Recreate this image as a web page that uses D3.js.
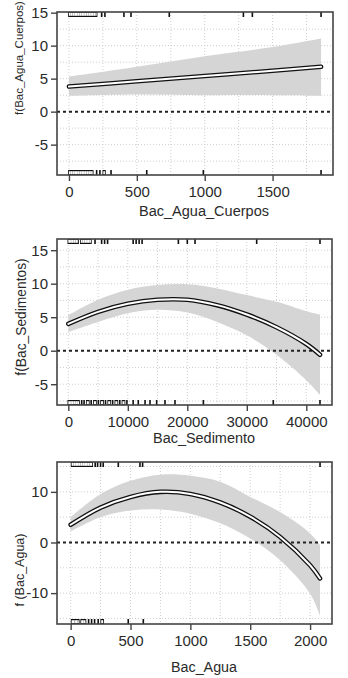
<!DOCTYPE html>
<html>
<head>
<meta charset="utf-8">
<script src="https://cdn.jsdelivr.net/npm/d3@7"></script>
<style>
  body { margin: 0; background: #fff; }
  text { font-family: "Liberation Sans", Arial, sans-serif; fill: #2a2a2a; }
</style>
</head>
<body>
<svg id="chart" width="348" height="678"></svg>
<script>
// --- panel 1: Bac_Agua_Cuerpos
const cuerposX = [0, 500, 1000, 1500, 1857];
const cuerposFit = [3.8, 4.6, 5.4, 6.2, 6.8];
const cuerposLow = [2.4, 2.6, 2.5, 2.5, 2.4];
const cuerposHigh = [5.3, 6.8, 8.4, 9.8, 11.1];
const cuerposRugTop = [0, 13, 26, 39, 52, 65, 78, 91, 104, 117, 130, 143, 156, 169, 182, 195, 204, 241, 265, 405, 457, 739, 1285, 1351, 1857];
const cuerposRugBottom = [0, 13, 26, 39, 52, 65, 78, 91, 104, 117, 130, 143, 156, 169, 175, 204, 228, 253, 265, 310, 573, 990, 1857];
const cuerposXTicks = [0, 500, 1000, 1500];
const cuerposYTicks = [-5, 0, 5, 10, 15];

// --- panel 2: Bac_Sedimento
const sedX = [0, 5000, 10000, 15000, 20000, 25000, 30000, 35000, 40000, 42300];
const sedFit = [4.0, 5.8, 7.0, 7.6, 7.6, 6.8, 5.4, 3.5, 1.0, -0.6];
const sedLow = [2.8, 4.3, 5.6, 6.1, 5.7, 4.3, 2.3, -0.6, -4.4, -6.6];
const sedHigh = [5.3, 7.6, 9.1, 9.8, 9.9, 9.3, 8.3, 7.3, 5.9, 5.4];
const sedRugTop = [0, 300, 600, 900, 1200, 1500, 1650, 2100, 2400, 2700, 3000, 3300, 3600, 3800, 4490, 5600, 6100, 6600, 10900, 11400, 11900, 12400, 18500, 20000, 21300, 31660, 42300];
const sedRugBottom = [0, 300, 600, 900, 1200, 1500, 1800, 2250, 2650, 3100, 3450, 3850, 4300, 4650, 5050, 5500, 5850, 6250, 6700, 7050, 7450, 7900, 8250, 8650, 9100, 9450, 9850, 10900, 11760, 12900, 13730, 14850, 16250, 17930, 22700, 34450, 42300];
const sedXTicks = [0, 10000, 20000, 30000, 40000];
const sedYTicks = [-5, 0, 5, 10, 15];

// --- panel 3: Bac_Agua
const aguaX = [0, 250, 500, 750, 1000, 1250, 1500, 1750, 2000, 2083];
const aguaFit = [3.5, 6.9, 9.0, 10.0, 9.6, 7.9, 5.1, 1.1, -4.5, -7.1];
const aguaLow = [2.2, 5.0, 6.3, 6.5, 5.7, 3.8, 0.8, -3.5, -10.1, -14.4];
const aguaHigh = [5.0, 9.6, 12.2, 13.4, 13.2, 12.0, 9.0, 6.0, 1.8, -0.5];
const aguaRugTop = [8, 23, 38, 53, 68, 83, 98, 113, 128, 143, 158, 170, 180, 205, 225, 250, 272, 398, 579, 601, 2083];
const aguaRugBottom = [8, 20, 32, 44, 56, 68, 88, 106, 124, 150, 175, 200, 230, 255, 272, 481, 607];
const aguaXTicks = [0, 500, 1000, 1500, 2000];
const aguaYTicks = [-10, 0, 10];

const svg = d3.select("#chart");

function drawRug(g, x, vals, edge, dir) {
    const len = 5;
    const y0 = dir > 0 ? edge : edge - len;
    g.selectAll(null).data(vals).enter().append("rect")
        .attr("x", d => x(d) - 0.8).attr("y", y0)
        .attr("width", 1.6).attr("height", len)
        .attr("fill", "#111");
    // dense runs of ticks show up as an outlined white block
    const close = d3.pairs(vals).filter(([a, b]) => x(b) - x(a) < 2.2);
    g.selectAll(null).data(close).enter().append("rect")
        .attr("x", d => x(d[0])).attr("y", y0)
        .attr("width", d => x(d[1]) - x(d[0])).attr("height", len)
        .attr("fill", "#111");
    g.selectAll(null).data(close).enter().append("rect")
        .attr("x", d => x(d[0])).attr("y", dir > 0 ? y0 + 0.8 : y0 + 1.2)
        .attr("width", d => x(d[1]) - x(d[0])).attr("height", len - 2)
        .attr("fill", "#fff");
}

function drawPanel(p) {
    const x = d3.scaleLinear().domain(p.xDomain).range([p.left, p.right]);
    const y = d3.scaleLinear().domain(p.yDomain).range([p.bottom, p.top]);
    const g = svg.append("g");

    g.selectAll(null).data(p.xGrid).enter().append("line")
        .attr("x1", d => x(d)).attr("x2", d => x(d))
        .attr("y1", p.top).attr("y2", p.bottom)
        .attr("stroke", "#cfcfcf").attr("stroke-dasharray", "1,2");
    g.selectAll(null).data(p.yGrid).enter().append("line")
        .attr("x1", p.left).attr("x2", p.right)
        .attr("y1", d => y(d)).attr("y2", d => y(d))
        .attr("stroke", "#cfcfcf").attr("stroke-dasharray", "1,2");

    const rows = p.xs.map((v, i) => ({ x: v, fit: p.fit[i], lo: p.lo[i], hi: p.hi[i] }));
    const curve = d3.curveCatmullRom.alpha(0.5);

    g.append("path").datum(rows)
        .attr("d", d3.area().x(d => x(d.x)).y0(d => y(d.lo)).y1(d => y(d.hi)).curve(curve))
        .attr("fill", "#d5d5d5");

    g.append("line")
        .attr("x1", p.left).attr("x2", p.right)
        .attr("y1", y(0)).attr("y2", y(0))
        .attr("stroke", "#222").attr("stroke-width", 2)
        .attr("stroke-dasharray", "3,3");

    const line = d3.line().x(d => x(d.x)).y(d => y(d.fit)).curve(curve);
    g.append("path").datum(rows).attr("d", line)
        .attr("fill", "none").attr("stroke", "#111").attr("stroke-width", 4.6)
        .attr("stroke-linecap", "round");
    g.append("path").datum(rows).attr("d", line)
        .attr("fill", "none").attr("stroke", "#fff").attr("stroke-width", 2)
        .attr("stroke-linecap", "round");

    drawRug(g, x, p.rugTop, p.top, 1);
    drawRug(g, x, p.rugBottom, p.bottom, -1);

    g.append("rect")
        .attr("x", p.left).attr("y", p.top)
        .attr("width", p.right - p.left).attr("height", p.bottom - p.top)
        .attr("fill", "none").attr("stroke", "#444").attr("stroke-width", 1.6);

    const yAxis = g.append("g")
        .attr("transform", `translate(${p.left},0)`)
        .call(d3.axisLeft(y).tickValues(p.yTicks).tickSize(6).tickPadding(3).tickFormat(d => String(d)));
    const xAxis = g.append("g")
        .attr("transform", `translate(0,${p.bottom})`)
        .call(d3.axisBottom(x).tickValues(p.xTicks).tickSize(6).tickPadding(5).tickFormat(d => String(d)));
    [yAxis, xAxis].forEach(a => {
        a.select(".domain").remove();
        a.selectAll(".tick line").attr("stroke", "#444").attr("stroke-width", 1.4);
        a.selectAll("text").attr("font-size", 15).attr("fill", "#2a2a2a")
            .style("font-family", "'Liberation Sans', Arial, sans-serif");
    });

    g.append("text")
        .attr("x", p.xTitle[0]).attr("y", p.xTitle[1])
        .attr("dy", "0.35em").attr("text-anchor", "middle")
        .attr("font-size", 14)
        .attr("textLength", p.xTitle[2]).attr("lengthAdjust", "spacingAndGlyphs")
        .text(p.xLabel);
    const yt = g.append("text")
        .attr("transform", `translate(${p.yTitle[0]},${p.yTitle[1]}) rotate(-90)`)
        .attr("dy", "0.35em").attr("text-anchor", "middle")
        .attr("font-size", p.yTitle[2])
        .text(p.yLabel);
    if (p.narrow) yt.style("font-family", "'Liberation Sans Narrow', 'Arial Narrow', sans-serif");
}

drawPanel({
    left: 57, right: 333, top: 12, bottom: 175,
    xDomain: [-88, 1945], yDomain: [-9.6, 15.1],
    xs: cuerposX, fit: cuerposFit, lo: cuerposLow, hi: cuerposHigh,
    rugTop: cuerposRugTop, rugBottom: cuerposRugBottom,
    xTicks: cuerposXTicks, yTicks: cuerposYTicks,
    xGrid: [0, 250, 500, 750, 1000, 1250, 1500, 1750],
    yGrid: [-7.5, -5, -2.5, 2.5, 5, 7.5, 10, 12.5],
    xLabel: "Bac_Agua_Cuerpos", xTitle: [204, 211, 130],
    yLabel: "f(Bac_Agua_Cuerpos)", yTitle: [19, 58, 11.5], narrow: true
});

drawPanel({
    left: 57, right: 332, top: 239, bottom: 405,
    xDomain: [-1900, 44320], yDomain: [-8.1, 16.67],
    xs: sedX, fit: sedFit, lo: sedLow, hi: sedHigh,
    rugTop: sedRugTop, rugBottom: sedRugBottom,
    xTicks: sedXTicks, yTicks: sedYTicks,
    xGrid: [0, 5000, 10000, 15000, 20000, 25000, 30000, 35000, 40000],
    yGrid: [-7.5, -5, -2.5, 2.5, 5, 7.5, 10, 12.5, 15],
    xLabel: "Bac_Sedimento", xTitle: [204, 438, 102],
    yLabel: "f(Bac_Sedimentos)", yTitle: [21, 317, 13.8]
});

drawPanel({
    left: 57, right: 332, top: 462, bottom: 624,
    xDomain: [-114, 2183], yDomain: [-16.1, 15.9],
    xs: aguaX, fit: aguaFit, lo: aguaLow, hi: aguaHigh,
    rugTop: aguaRugTop, rugBottom: aguaRugBottom,
    xTicks: aguaXTicks, yTicks: aguaYTicks,
    xGrid: [0, 250, 500, 750, 1000, 1250, 1500, 1750, 2000],
    yGrid: [-15, -10, -5, 5, 10, 15],
    xLabel: "Bac_Agua", xTitle: [204, 667, 66],
    yLabel: "f (Bac_Agua)", yTitle: [20, 570, 12.5]
});
</script>
</body>
</html>
